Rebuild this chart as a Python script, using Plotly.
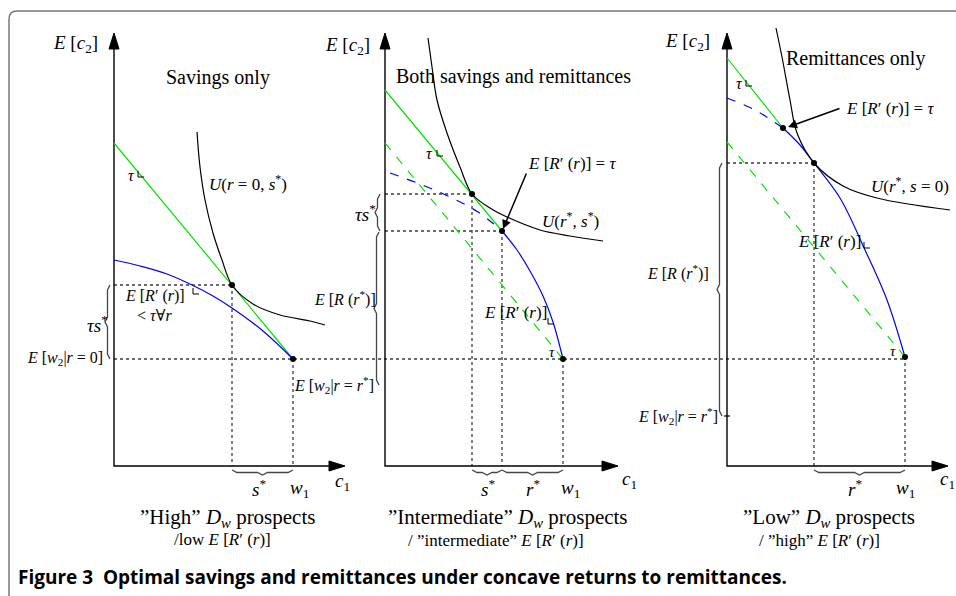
import plotly.graph_objects as go

# Canvas is laid out in pixel units (x to the right, y downwards)
W, H = 956, 596

# ---- panel 1: savings only ----
p1_axis_x = [114, 114, 330]
p1_axis_y = [49, 466, 466]
p1_green_x = [114, 293]
p1_green_y = [143, 359]
p1_blue_x = [114, 140, 167, 192, 213, 232, 263, 293]
p1_blue_y = [260, 266, 274, 285, 296, 308, 331, 359]
p1_u_x = [197, 200, 205, 213, 222, 232, 253, 280, 310, 325]
p1_u_y = [132, 167, 200, 233, 260, 285, 304, 315, 321, 325]
p1_dots_x = [232, 293]
p1_dots_y = [285, 359]

# ---- panel 2: both savings and remittances ----
p2_axis_x = [385, 385, 603]
p2_axis_y = [49, 466, 466]
p2_green_x = [385, 502]
p2_green_y = [90, 231]
p2_green_dash_x = [385, 563]
p2_green_dash_y = [143, 359]
p2_blue_dash_x = [390, 420, 450, 478, 502]
p2_blue_dash_y = [173, 184, 197, 212, 231]
p2_blue_x = [502, 517, 530, 543, 553, 563]
p2_blue_y = [231, 250, 271, 296, 322, 359]
p2_u_x = [428, 432, 437, 447, 460, 472, 490, 507, 540, 570, 603]
p2_u_y = [38, 67, 100, 133, 167, 194, 208, 217, 230, 236, 241]
p2_dots_x = [472, 502, 563]
p2_dots_y = [194, 231, 359]

# ---- panel 3: remittances only ----
p3_axis_x = [727, 727, 933]
p3_axis_y = [49, 466, 466]
p3_green_x = [727, 783]
p3_green_y = [58, 128]
p3_green_dash_x = [727, 905]
p3_green_dash_y = [142, 357]
p3_blue_dash_x = [727, 755, 783]
p3_blue_dash_y = [98, 110, 128]
p3_blue_x = [783, 800, 814, 840, 865, 887, 905]
p3_blue_y = [128, 145, 163, 198, 250, 300, 357]
p3_u_x = [776, 782, 790, 797, 814, 843, 877, 950]
p3_u_y = [28, 57, 100, 133, 163, 186, 198, 210]
p3_dots_x = [783, 814, 905]
p3_dots_y = [128, 163, 357]

# axis arrow tips (x axis tips, y axis tips)
arrow_up_x = [114, 385, 727]
arrow_up_y = [33, 33, 33]
arrow_right_x = [345, 618, 948]
arrow_right_y = [466, 466, 466]

# dotted guide segments: x0, y0, x1, y1
guide_x0 = [114, 232, 114, 293, 385, 385, 472, 502, 563, 727, 814, 905]
guide_y0 = [285, 285, 359, 359, 194, 231, 194, 231, 359, 163, 163, 357]
guide_x1 = [232, 232, 905, 293, 472, 502, 472, 502, 563, 814, 814, 905]
guide_y1 = [285, 466, 359, 466, 194, 231, 466, 466, 466, 163, 466, 466]

# braces: start, end, side ('l' = tip to the left, 'd' = tip downwards)
brace_x0 = [110, 380, 379, 722, 232, 472, 502, 814]
brace_y0 = [285, 194, 232, 163, 470, 470, 470, 470]
brace_x1 = [110, 380, 379, 722, 293, 502, 563, 905]
brace_y1 = [359, 231, 385, 416, 470, 470, 470, 470]
brace_side = ['l', 'l', 'l', 'l', 'd', 'd', 'd', 'd']

# small right-angle marks next to the slope labels
corner_x = [138, 193, 437, 548, 746, 864]
corner_y = [171, 288, 150, 318, 80, 242]

# labels: x, y, text, size, anchor
lbl_x = [100, 218, 131, 248, 155, 154, 110, 105, 292, 378, 259, 299, 342, 227, 222,
         372, 513, 429, 572, 570, 378, 515, 552, 488, 533, 570, 629, 508, 496,
         712, 855, 739, 890, 910, 829, 711, 720, 893, 855, 905, 947, 829, 819]
lbl_y = [44, 77, 175, 183, 296, 315, 324, 358, 385, 298, 488, 489, 482, 518, 539,
         46, 76, 153, 163, 220, 213, 312, 352, 488, 488, 489, 480, 518, 540,
         42, 58, 83, 108, 185, 241, 272, 416, 351, 488, 489, 480, 518, 540]
lbl_text = [
    '<i>E</i> [<i>c</i><sub>2</sub>]', 'Savings only', '<i>τ</i>',
    '<i>U</i>(<i>r</i> = 0, <i>s</i><sup>*</sup>)',
    '<i>E</i> [<i>R</i>′ (<i>r</i>)]', '< <i>τ</i>∀<i>r</i>', '<i>τs</i><sup>*</sup>',
    '<i>E</i> [<i>w</i><sub>2</sub>|<i>r</i> = 0]',
    '<i>E</i> [<i>w</i><sub>2</sub>|<i>r</i> = <i>r</i><sup>*</sup>]',
    '<i>E</i> [<i>R</i> (<i>r</i><sup>*</sup>)]',
    '<i>s</i><sup>*</sup>', '<i>w</i><sub>1</sub>', '<i>c</i><sub>1</sub>',
    '”High” <i>D</i><sub><i>w</i></sub> prospects', '/low <i>E</i> [<i>R</i>′ (<i>r</i>)]',
    '<i>E</i> [<i>c</i><sub>2</sub>]', 'Both savings and remittances', '<i>τ</i>',
    '<i>E</i> [<i>R</i>′ (<i>r</i>)] = <i>τ</i>',
    '<i>U</i>(<i>r</i><sup>*</sup>, <i>s</i><sup>*</sup>)', '<i>τs</i><sup>*</sup>',
    '<i>E</i> [<i>R</i>′ (<i>r</i>)]', '<i>τ</i>',
    '<i>s</i><sup>*</sup>', '<i>r</i><sup>*</sup>', '<i>w</i><sub>1</sub>', '<i>c</i><sub>1</sub>',
    '”Intermediate” <i>D</i><sub><i>w</i></sub> prospects',
    '/ ”intermediate” <i>E</i> [<i>R</i>′ (<i>r</i>)]',
    '<i>E</i> [<i>c</i><sub>2</sub>]', 'Remittances only', '<i>τ</i>',
    '<i>E</i> [<i>R</i>′ (<i>r</i>)] = <i>τ</i>',
    '<i>U</i>(<i>r</i><sup>*</sup>, <i>s</i> = 0)', '<i>E</i> [<i>R</i>′ (<i>r</i>)]',
    '<i>E</i> [<i>R</i> (<i>r</i><sup>*</sup>)]',
    '<i>E</i> [<i>w</i><sub>2</sub>|<i>r</i> = <i>r</i><sup>*</sup>]', '<i>τ</i>',
    '<i>r</i><sup>*</sup>', '<i>w</i><sub>1</sub>', '<i>c</i><sub>1</sub>',
    '”Low” <i>D</i><sub><i>w</i></sub> prospects', '/ ”high” <i>E</i> [<i>R</i>′ (<i>r</i>)]',
]
lbl_size = [19, 20, 16, 17, 16, 16, 19, 16, 16, 16, 19, 19, 19, 21, 17,
            19, 20, 16, 17, 17, 19, 17, 15, 19, 19, 19, 19, 21, 17,
            19, 20, 16, 17, 17, 17, 16, 16, 15, 19, 19, 19, 21, 17]
lbl_anchor = ['right', 'center', 'center', 'center', 'center', 'center', 'right', 'right', 'left',
              'right', 'center', 'center', 'center', 'center', 'center',
              'right', 'center', 'center', 'center', 'center', 'right', 'center', 'center',
              'center', 'center', 'center', 'center', 'center', 'center',
              'right', 'center', 'center', 'center', 'center', 'center', 'right', 'right',
              'center', 'center', 'center', 'center', 'center', 'center']

# pointer arrows to the kink E[R'(r)] = tau : tail -> head
pointer_tail_x = [527, 841]
pointer_tail_y = [172, 108]
pointer_head_x = [503, 788]
pointer_head_y = [229, 127]

caption = '<b>Figure 3  Optimal savings and remittances under concave returns to remittances.</b>'

GREEN = 'rgb(0,230,0)'
BLUE = 'rgb(0,0,255)'
SERIF = 'Liberation Serif, DejaVu Serif, serif'

fig = go.Figure()


def line(x, y, color='black', width=1.2, dash='solid', shape='linear'):
    fig.add_trace(go.Scatter(x=x, y=y, mode='lines', hoverinfo='skip', showlegend=False,
                             line=dict(color=color, width=width, dash=dash, shape=shape)))


# frame of the figure box
r = 8
fig.add_shape(type='path', xref='x', yref='y',
              path=f'M 9,{H + 5} L 9,{11 + r} Q 9,11 {9 + r},11 L {W + 5},11',
              line=dict(color='rgb(120,120,120)', width=1.5))

# dotted guides
gx, gy = [], []
for a, b, c, d in zip(guide_x0, guide_y0, guide_x1, guide_y1):
    gx += [a, c, None]
    gy += [b, d, None]
line(gx, gy, color='rgb(60,60,60)', width=1.3, dash='dot')

# axes
for ax, ay in [(p1_axis_x, p1_axis_y), (p2_axis_x, p2_axis_y), (p3_axis_x, p3_axis_y)]:
    line(ax, ay, width=1.4)
tx, ty = [], []
for x, y in zip(arrow_up_x, arrow_up_y):
    tx += [x, x - 5, x + 5, x, None]
    ty += [y, y + 16, y + 16, y, None]
for x, y in zip(arrow_right_x, arrow_right_y):
    tx += [x, x - 16, x - 16, x, None]
    ty += [y, y - 5, y + 5, y, None]
fig.add_trace(go.Scatter(x=tx, y=ty, mode='lines', fill='toself', fillcolor='black',
                         line=dict(color='black', width=1), hoverinfo='skip', showlegend=False))

# budget lines and return curves
line(p1_green_x, p1_green_y, GREEN)
line(p1_blue_x, p1_blue_y, BLUE, shape='spline')
line(p1_u_x, p1_u_y, shape='spline')

line(p2_green_x, p2_green_y, GREEN)
line(p2_green_dash_x, p2_green_dash_y, GREEN, dash='dash')
line(p2_blue_dash_x, p2_blue_dash_y, BLUE, dash='dash', shape='spline')
line(p2_blue_x, p2_blue_y, BLUE, shape='spline')
line(p2_u_x, p2_u_y, shape='spline')

line(p3_green_x, p3_green_y, GREEN)
line(p3_green_dash_x, p3_green_dash_y, GREEN, dash='dash')
line(p3_blue_dash_x, p3_blue_dash_y, BLUE, dash='dash', shape='spline')
line(p3_blue_x, p3_blue_y, BLUE, shape='spline')
line(p3_u_x, p3_u_y, shape='spline')

# braces
for x0, y0, x1, y1, side in zip(brace_x0, brace_y0, brace_x1, brace_y1, brace_side):
    d = 5
    if side == 'l':
        ym = (y0 + y1) / 2
        bx = [x0, x0 - d / 2, x0 - d / 2, x0 - d, x0 - d / 2, x0 - d / 2, x1]
        by = [y0, y0 + d, ym - d, ym, ym + d, y1 - d, y1]
    else:
        xm = (x0 + x1) / 2
        bx = [x0, x0 + d, xm - d, xm, xm + d, x1 - d, x1]
        by = [y0, y0 + d / 2, y0 + d / 2, y0 + d, y0 + d / 2, y0 + d / 2, y1]
    line(bx, by, color='rgb(70,70,70)', width=1.3)

# tick for E[w2|r=r*] on panel 3
line([724, 730], [416, 416], width=1.2)

# right-angle marks
cx, cy = [], []
for x, y in zip(corner_x, corner_y):
    cx += [x, x, x + 6, None]
    cy += [y, y + 6, y + 6, None]
line(cx, cy, width=1)

# points
fig.add_trace(go.Scatter(x=p1_dots_x + p2_dots_x + p3_dots_x,
                         y=p1_dots_y + p2_dots_y + p3_dots_y,
                         mode='markers', marker=dict(color='black', size=6),
                         hoverinfo='skip', showlegend=False))

# labels
for x, y, t, s, a in zip(lbl_x, lbl_y, lbl_text, lbl_size, lbl_anchor):
    fig.add_annotation(x=x, y=y, text=t, showarrow=False, xanchor=a, yanchor='middle',
                       font=dict(family=SERIF, size=s, color='black'))

for tx0, ty0, hx, hy in zip(pointer_tail_x, pointer_tail_y, pointer_head_x, pointer_head_y):
    fig.add_annotation(x=hx, y=hy, ax=tx0, ay=ty0, axref='x', ayref='y', text='',
                       showarrow=True, arrowhead=2, arrowsize=1.2, arrowwidth=1.5,
                       arrowcolor='black')

fig.add_annotation(x=16, y=577, text=caption, showarrow=False, xanchor='left', yanchor='middle',
                   font=dict(family='Open Sans, sans-serif', size=19, color='black'))

fig.update_xaxes(range=[0, W], visible=False, fixedrange=True)
fig.update_yaxes(range=[H, 0], visible=False, fixedrange=True)
fig.update_layout(width=W, height=H, margin=dict(l=0, r=0, t=0, b=0),
                  plot_bgcolor='white', paper_bgcolor='white')

output_path = 'out.html'
fig.write_html(output_path, config={'displayModeBar': False})

# drop the default page margin so the figure sits at the window origin
with open(output_path, 'r', encoding='utf-8') as f:
    html = f.read()
html = html.replace('<head>', '<head>\n<style>body{margin:0;overflow:hidden}</style>', 1)
with open(output_path, 'w', encoding='utf-8') as f:
    f.write(html)
